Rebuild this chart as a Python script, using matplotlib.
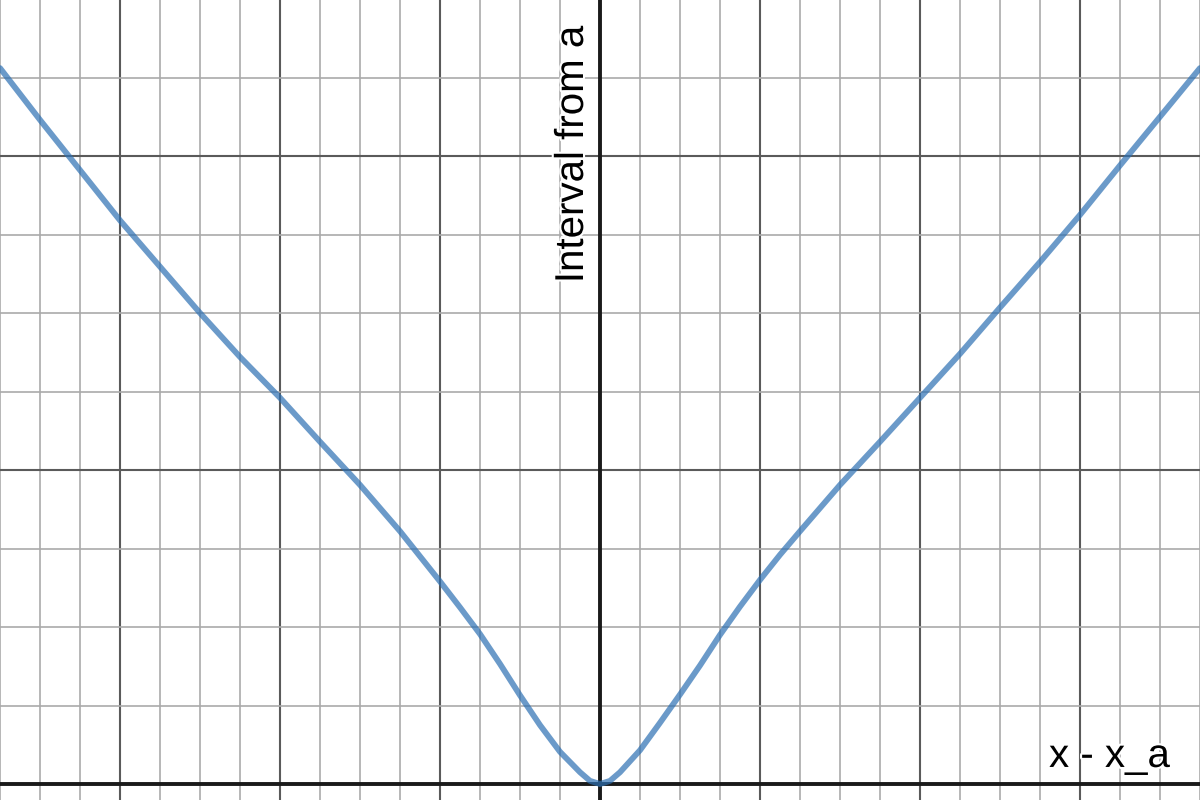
import numpy as np
import matplotlib
matplotlib.use("Agg")
import matplotlib.pyplot as plt
import matplotlib.patheffects as pe

# curve (x in minor grid units, y in minor grid units)
x_vals = [-15, -14, -13, -12, -11, -10, -9, -8, -7, -6, -5, -4.5, -4, -3.5, -3,
          -2.5, -2, -1.5, -1, -0.5, -0.25, 0, 0.25, 0.5, 1, 1.5, 2, 2.5, 3, 3.5,
          4, 4.5, 5, 6, 7, 8, 9, 10, 11, 12, 13, 14, 15]
y_vals = [9.12, 8.46, 7.82, 7.18, 6.59, 6.00, 5.44, 4.92, 4.36, 3.81, 3.22, 2.90, 2.58, 2.25, 1.91,
          1.53, 1.13, 0.75, 0.41, 0.15, 0.04, 0.0, 0.04, 0.15, 0.43, 0.78, 1.14, 1.51, 1.90, 2.26,
          2.60, 2.92, 3.22, 3.81, 4.36, 4.92, 5.48, 6.07, 6.65, 7.25, 7.88, 8.50, 9.12]

x_label = "x - x_a"
y_label = "Interval from a"

plt.rcParams['font.family'] = ['Liberation Sans', 'DejaVu Sans']

fig = plt.figure(figsize=(12, 8), dpi=100)
ax = fig.add_axes([0, 0, 1, 1])
ax.set_xlim(-15, 15)
ax.set_ylim(-16 / 78.5, 784 / 78.5)

# grid, Desmos style
ax.set_xticks(np.arange(-12, 13, 4))
ax.set_xticks(np.arange(-15, 16, 1), minor=True)
ax.set_yticks(np.arange(0, 10, 4))
ax.set_yticks(np.arange(0, 10, 1), minor=True)
ax.grid(which='minor', color='#aaaaaa', linewidth=1.2)
ax.grid(which='major', color='#5a5a5a', linewidth=1.5)
ax.set_axisbelow(True)
ax.tick_params(which='both', length=0, labelbottom=False, labelleft=False)
for s in ax.spines.values():
    s.set_visible(False)

ax.axhline(0, color='#1a1a1a', linewidth=2.8, zorder=2)
ax.axvline(0, color='#1a1a1a', linewidth=2.8, zorder=2)

ax.plot(x_vals, y_vals, color='#2d70b3', alpha=0.7, linewidth=4.2,
        solid_capstyle='round', solid_joinstyle='round', zorder=3)

halo = [pe.withStroke(linewidth=3, foreground='white')]
ax.text(11.225, 0.217, x_label, fontsize=29, ha='left', va='baseline',
        color='black', path_effects=halo, zorder=4)
ax.text(-0.425, 6.38, y_label, fontsize=29, rotation=90, rotation_mode='anchor',
        ha='left', va='baseline', color='black', path_effects=halo, zorder=4)

fig.savefig("out.png", dpi=100)
